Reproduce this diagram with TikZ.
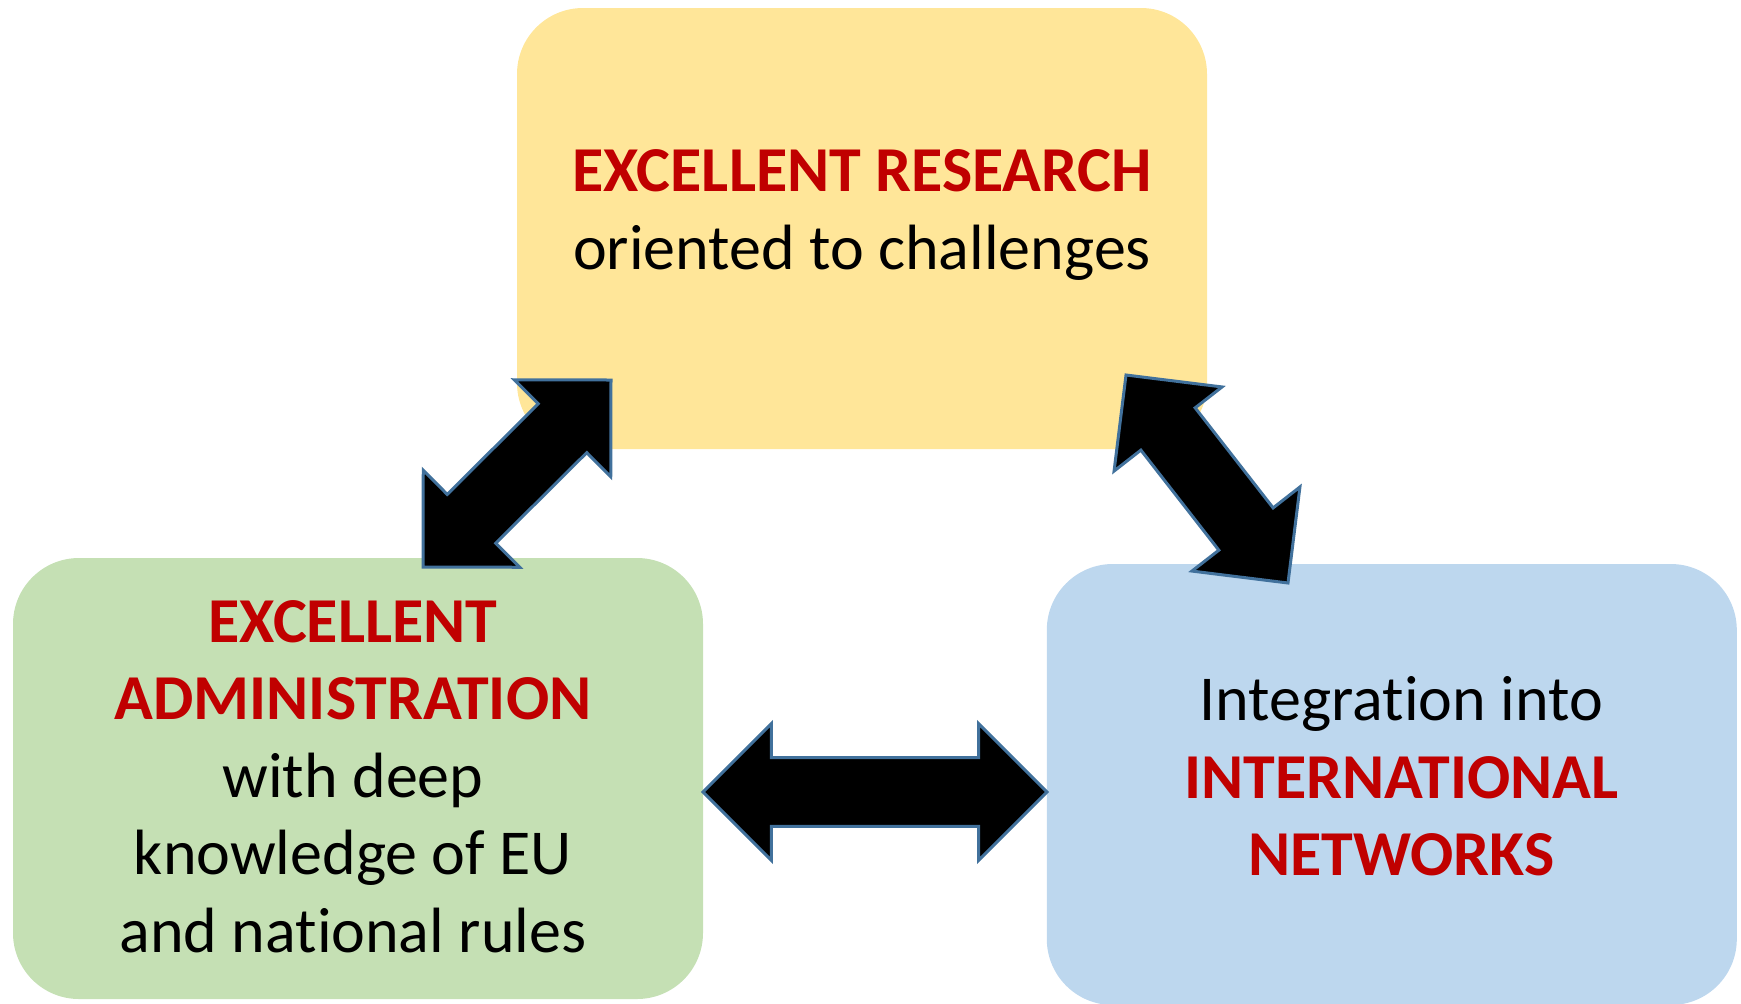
\documentclass[tikz,border=0pt]{standalone}
\usepackage{fontspec}
\setmainfont{Carlito}[Ligatures=NoCommon]
\usepackage{xcolor}
\usepackage{tikz}
\usetikzlibrary{calc, positioning}
\definecolor{exred}{HTML}{C00000}
\definecolor{resyellow}{HTML}{FFE699}
\definecolor{admgreen}{HTML}{C5E0B4}
\definecolor{netblue}{HTML}{BDD7EE}
\definecolor{edgeblue}{HTML}{41719C}
\newcommand{\redbold}[1]{\textcolor{exred}{\bfseries #1}}
% fat double arrow between two named tips
\newcommand{\dblarrow}[2]{%
    \draw[bigarrow] (#1)
        -- ($(#1)!48.4pt!45:(#2)$)
        -- ($(#1)!34.2pt!(#2)!17.2pt!90:(#2)$)
        -- ($(#2)!34.2pt!(#1)!17.2pt!-90:(#1)$)
        -- ($(#2)!48.4pt!-45:(#1)$)
        -- (#2)
        -- ($(#2)!48.4pt!45:(#1)$)
        -- ($(#2)!34.2pt!(#1)!17.2pt!90:(#1)$)
        -- ($(#1)!34.2pt!(#2)!17.2pt!-90:(#2)$)
        -- ($(#1)!48.4pt!-45:(#2)$)
        -- cycle;}
\tikzset{
    box/.style={rectangle, rounded corners=33pt, minimum width=345pt, minimum height=220.5pt, inner sep=0pt},
    boxtext/.style={align=center, inner sep=0pt, font=\fontsize{32}{38.7}\selectfont},
    bigarrow/.style={draw=edgeblue, line width=1.5pt, fill=black, line join=miter}
}
\begin{document}
\begin{tikzpicture}[x=0.5pt, y=-0.5pt]
    \useasboundingbox (0,0) rectangle (1741,1003);

    % Boxes
    \node[box, fill=resyellow] (research) at (862,228.5) {};
    \node[box, fill=admgreen] (admin) at (358,778.5) {};
    \node[box, fill=netblue, right=171.5pt of admin, yshift=-3pt] (networks) {};

    % Texts
    \node[boxtext, xshift=0pt, yshift=6.75pt] (researchtxt) at (research.center)
        {\redbold{EXCELLENT RESEARCH}\\oriented to challenges};
    \node[boxtext, xshift=-2.5pt, yshift=1pt] (admintxt) at (admin.center)
        {\redbold{EXCELLENT}\\\redbold{ADMINISTRATION}\\with deep\\knowledge of EU\\and national rules};
    \node[boxtext, xshift=4.75pt, yshift=4pt] (networkstxt) at (networks.center)
        {Integration into\\\redbold{INTERNATIONAL}\\\redbold{NETWORKS}};

    % Arrow tips
    \coordinate (resL) at (611,380);
    \coordinate (admT) at (423,567);
    \coordinate (resR) at (1126,375);
    \coordinate (netT) at (1288,583);
    \coordinate (admR) at (703,792);
    \coordinate (netL) at (1047,792);

    % Arrows
    \dblarrow{resL}{admT}
    \dblarrow{resR}{netT}
    \dblarrow{admR}{netL}
\end{tikzpicture}
\end{document}
